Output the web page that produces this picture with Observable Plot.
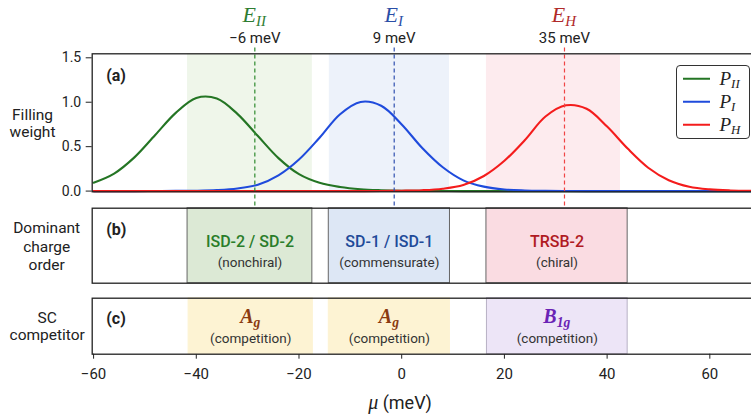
<!DOCTYPE html>
<html><head><meta charset="utf-8">
<script src="https://cdn.jsdelivr.net/npm/d3@7"></script>
<script src="https://cdn.jsdelivr.net/npm/@observablehq/plot@0.6"></script>
<style>
html,body{margin:0;padding:0;background:#fff;overflow:hidden}
#fig{position:relative;width:751px;height:414px;overflow:hidden;background:#fff;font-family:Roboto,"Noto Sans",sans-serif;color:#222}
#fig svg{position:absolute;left:0;max-width:none !important;overflow:visible}
.lab{position:absolute;transform:translate(-50%,-50%);white-space:nowrap;line-height:1}
.m{font-family:"Liberation Serif","DejaVu Serif",serif;font-style:italic}
.m sub{font-size:0.68em;vertical-align:-0.3em;line-height:0}
#legend{position:absolute;left:675.5px;top:65px;width:72px;height:72px;border:1.2px solid #333;border-radius:4px;background:#fff}
.li{position:absolute;left:0;height:0}
.li .sw{position:absolute;left:6px;width:27px;height:2.5px;transform:translateY(-50%)}
.li .tx{position:absolute;left:43px;top:0;transform:translateY(-55%);font-size:19px;white-space:nowrap;line-height:1}
</style></head><body><div id="fig"></div>
<script>
// ---- data ----
const mu = [-60,-56,-52,-48,-44,-40,-36,-32,-28,-24,-20,-16,-12,-8,-4,0,4,8,12,16,20,24,28,32,36,40,44,48,52,56,60,64,68];
const pII = [0.094,0.197,0.382,0.631,0.880,1.048,1.042,0.869,0.619,0.371,0.190,0.093,0.046,0.021,0.010,0.004,0.002,0.001,0,0,0,0,0,0,0,0,0,0,0,0,0,0,0];
const pI  = [0,0,0,0.001,0.002,0.004,0.011,0.029,0.072,0.177,0.355,0.600,0.865,1.003,0.960,0.750,0.485,0.268,0.121,0.050,0.018,0.007,0.003,0.001,0,0,0,0,0,0,0,0,0];
const pH  = [0,0,0,0,0,0,0,0,0,0,0,0,0,0,0.001,0.004,0.010,0.027,0.068,0.170,0.341,0.575,0.839,0.965,0.926,0.726,0.478,0.263,0.122,0.049,0.019,0.007,0.003];
const seriesNames = ["II","I","H"];

const markerPos = [-28.6,-1.46,31.7];
const markerValues = ["\u22126 meV","9 meV","35 meV"];

const bandStart = [-41.7,-14.1,16.5];
const bandEnd   = [-17.4,9.3,42.6];

const orderLabels = ["ISD-2 / SD-2","SD-1 / ISD-1","TRSB-2"];
const orderNotes  = ["(nonchiral)","(commensurate)","(chiral)"];
const orderStart  = [-41.7,-14.2,16.5];
const orderEnd    = [-17.4,9.4,44.0];

const scBase  = ["A","A","B"];
const scSub   = ["g","g","1g"];
const scNotes = ["(competition)","(competition)","(competition)"];
const scStart = [-41.5,-14.2,16.6];
const scEnd   = [-17.3,9.4,44.0];

const xTicks = [-60,-40,-20,0,20,40,60];
const yTicks = [0,0.5,1,1.5];
const xDomain = [-60.27,69.48];
const yDomain = [-0.008,1.545];

// ---- styles ----
const curveColors  = ["#247524","#1f4bdc","#f41c1c"];
const markerColors = ["#2e8b2e","#3050b0","#f04444"];
const labelColors  = ["#2e7d32","#2a4ea6","#b02a2a"];
const bandFills  = ["#eff6ea","#edf2fa","#fdebee"];
const orderFills = ["#dce9d5","#dde7f5","#fadce2"];
const orderInks  = ["#2a7d2a","#1f4b99","#b01a22"];
const scFills = ["#fdf3d3","#fdf3d3","#ede5f7"];
const scStrokes = ["#fdf3d3","#fdf3d3","#b8b0c4"];
const scInks  = ["#8b3a10","#8b3a10","#6a23b5"];

const W = 762, L = 91.7, R = 4;
const fig = document.getElementById("fig");

const curveRows = [];
[pII,pI,pH].forEach((arr,s)=>arr.forEach((p,i)=>curveRows.push({mu:mu[i],p,series:seriesNames[s],color:curveColors[s]})));
const markerRows = markerPos.map((x,i)=>({x,value:markerValues[i],color:markerColors[i]}));
const bandRows = bandStart.map((x1,i)=>({x1,x2:bandEnd[i],fill:bandFills[i]}));
const orderRows = orderLabels.map((label,i)=>({label,note:orderNotes[i],x1:orderStart[i],x2:orderEnd[i],fill:orderFills[i],ink:orderInks[i]}));
const scRows = scBase.map((b,i)=>({b,sub:scSub[i],note:scNotes[i],x1:scStart[i],x2:scEnd[i],fill:scFills[i],stroke:scStrokes[i]}));
const mid = d => (d.x1+d.x2)/2;
const baseStyle = {background:"transparent",overflow:"visible",maxWidth:"none",fontFamily:"Roboto, 'Noto Sans', sans-serif",color:"#222"};
const panelTag = (t, dy) => Plot.text([t], {frameAnchor:"top-left", lineAnchor:"middle", dx:14, dy, fontSize:16, fontWeight:"bold", textAnchor:"start", fill:"#222"});

const plotA = Plot.plot({
  width: W, height: 208, marginTop: 53.3, marginBottom: 16.7, marginLeft: L, marginRight: R,
  x: {domain: xDomain, axis: null},
  y: {domain: yDomain, ticks: yTicks, tickFormat: d => d.toFixed(1), tickSize: 6, tickPadding: 5, label: null},
  color: {type: "identity"},
  style: {...baseStyle, fontSize: "14px"},
  marks: [
    Plot.rect(bandRows, {x1:"x1", x2:"x2", fill:"fill"}),
    Plot.line(curveRows, {x:"mu", y:"p", z:"series", stroke:"color", strokeWidth:2.1, curve:"catmull-rom"}),
    Plot.ruleX(markerRows, {x:"x", y1:1.61, y2:-0.192, stroke:"color", strokeWidth:1.2, strokeDasharray:"4,3"}),
    Plot.frame({stroke:"#222", strokeWidth:1.3}),
    panelTag("(a)", 21.7),
    Plot.text(["Filling\nweight"], {frameAnchor:"left", dx:-59.7, textAnchor:"middle", fontSize:15.5, lineHeight:1.15, fill:"#222"}),
    Plot.text(markerRows, {x:"x", frameAnchor:"top", lineAnchor:"middle", dy:-16, text:"value", fontSize:15, fill:"#222"})
  ]
});

const plotB = Plot.plot({
  width: W, height: 90, marginTop: 7.7, marginBottom: 7.3, marginLeft: L, marginRight: R,
  x: {domain: xDomain, axis: null}, y: {domain:[0,1], axis:null},
  color: {type: "identity"},
  style: {...baseStyle, fontSize: "14px"},
  marks: [
    Plot.rect(orderRows, {x1:"x1", x2:"x2", fill:"fill", stroke:"#666", strokeWidth:1}),
    Plot.frame({stroke:"#222", strokeWidth:1.3}),
    Plot.text(orderRows, {x: mid, frameAnchor:"middle", dy:-3.5, text:"label", fill:"ink", fontSize:16, fontWeight:500}),
    Plot.text(orderRows, {x: mid, frameAnchor:"middle", dy:16.6, text:"note", fill:"#333", fontSize:13.5}),
    panelTag("(b)", 21.6),
    Plot.text(["Dominant\ncharge\norder"], {frameAnchor:"left", dx:-45.5, textAnchor:"middle", fontSize:15.5, lineHeight:1.18, fill:"#222"})
  ]
});

const plotC = Plot.plot({
  width: W, height: 124, marginTop: 7.7, marginBottom: 60.3, marginLeft: L, marginRight: R,
  x: {domain: xDomain, ticks: xTicks, tickSize: 5, tickPadding: 9.5, label: null},
  y: {domain:[0,1], axis:null},
  color: {type: "identity"},
  style: {...baseStyle, fontSize: "15px"},
  marks: [
    Plot.rect(scRows, {x1:"x1", x2:"x2", fill:"fill", stroke:"stroke", strokeWidth:1}),
    Plot.frame({stroke:"#222", strokeWidth:1.3}),
    Plot.text(scRows, {x: mid, frameAnchor:"middle", dy:12.5, text:"note", fill:"#333", fontSize:13.5}),
    panelTag("(c)", 20.6),
    Plot.text(["SC\ncompetitor"], {frameAnchor:"left", dx:-45, textAnchor:"middle", fontSize:15.5, lineHeight:1.12, fill:"#222"})
  ]
});

function place(svg, top){ svg.style.top = top + "px"; svg.style.left = "0px"; fig.appendChild(svg); }
place(plotA, 0); place(plotB, 200); place(plotC, 290);

const sxA = plotA.scale("x");
const px = d3.scaleLinear(sxA.domain, sxA.range);

function label(html, x, y, css){
  const d = document.createElement("div");
  d.className = "lab";
  d.innerHTML = html;
  d.style.left = x + "px"; d.style.top = y + "px";
  Object.assign(d.style, css || {});
  fig.appendChild(d);
  return d;
}
// E labels above the dashed markers
markerPos.forEach((x,i)=>label(`<span class="m">E<sub>${seriesNames[i]}</sub></span>`, px(x), 15, {fontSize:"22px", color:labelColors[i]}));
// SC symbols
scRows.forEach((d,i)=>label(`<span class="m" style="font-weight:bold">${d.b}<sub>${d.sub}</sub></span>`, px(mid(d)), 316, {fontSize:"20px", color:scInks[i]}));
// axis title
label(`<span class="m" style="font-size:20px">\u03bc</span> (meV)`, 400, 402, {fontSize:"18px", color:"#222"});

// legend
const lg = document.createElement("div"); lg.id = "legend"; fig.appendChild(lg);
[12.8,35.5,58.8].forEach((y,i)=>{
  const it = document.createElement("div"); it.className = "li"; it.style.top = y + "px";
  it.innerHTML = `<div class="sw" style="background:${curveColors[i]}"></div><div class="tx m">P<sub>${seriesNames[i]}</sub></div>`;
  lg.appendChild(it);
});
</script></body></html>
